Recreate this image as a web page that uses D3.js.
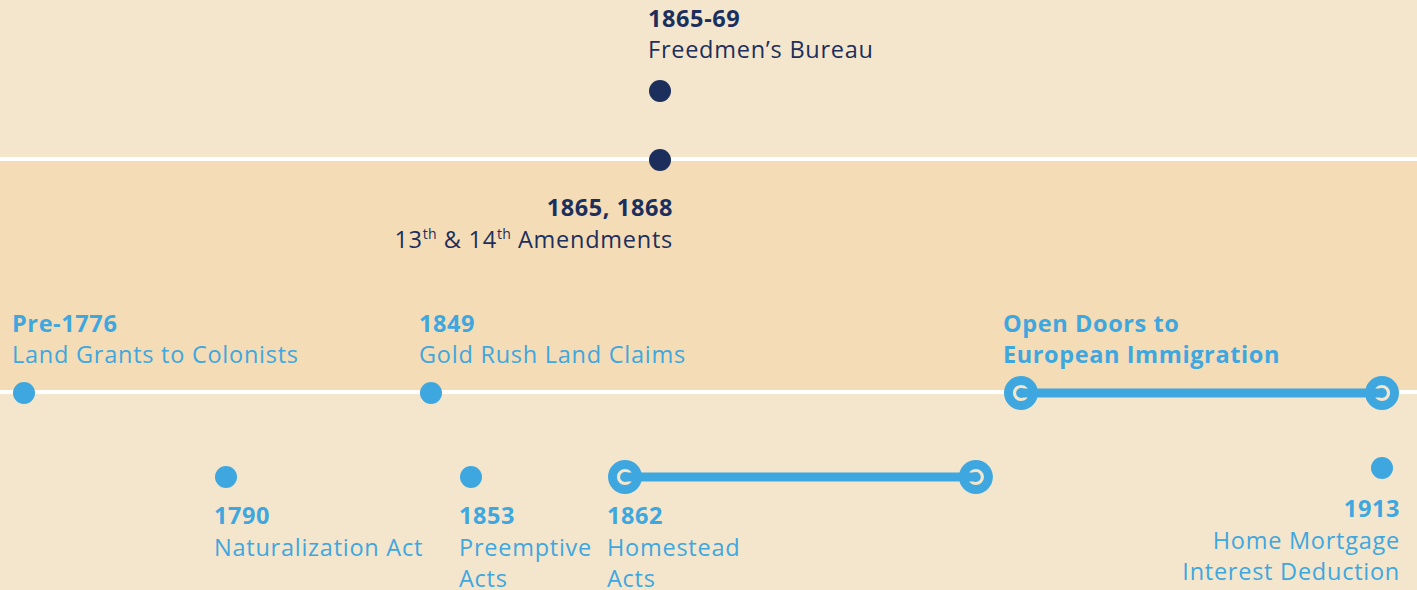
<!DOCTYPE html>
<html>
<head>
<meta charset="utf-8">
<script src="https://cdn.jsdelivr.net/npm/d3@7"></script>
<style>
  body { margin: 0; overflow: hidden; }
  svg { display: block; font-family: "Open Sans", Lato, sans-serif; }
</style>
</head>
<body>
<svg id="chart" width="1417" height="590"></svg>
<script>
// single-date events
const pointLabels = ["Pre-1776", "1790", "1849", "1853", "1865-69", "1865, 1868", "1913"];
const pointTitles = ["Land Grants to Colonists", "Naturalization Act", "Gold Rush Land Claims", "Preemptive\nActs",
    "Freedmen’s Bureau", "13^th & 14^th Amendments", "Home Mortgage\nInterest Deduction"];
const pointYears = [1776, 1790, 1849, 1853, 1865, 1865, 1913];
const pointLanes = ["divider2", "low", "divider2", "low", "top", "divider1", "lowEnd"];
const pointGroups = ["land", "land", "land", "land", "civil", "civil", "land"];

// events that run over a period
const spanLabels = ["1862", "Open Doors to\nEuropean Immigration"];
const spanTitles = ["Homestead\nActs", ""];
const spanStarts = [1862, 1889];
const spanEnds = [1886, 1913];
const spanLanes = ["low", "divider2"];

// timeline is not to scale: stops where the spacing changes
const axisStops = [1776, 1790, 1849, 1853, 1862, 1865, 1913];

const W = 1417, H = 590;
const colors = { land: "#3fa7df", civil: "#1c2f5c", light: "#f3e6cd", warm: "#f3dcb6", rule: "#ffffff" };

const svg = d3.select("#chart");

const x = d3.scaleLinear()
    .domain(axisStops)
    .range([24, 226, 431, 471, 625, 660, 1382]);

const lane = d3.scaleOrdinal()
    .domain(["top", "divider1", "divider2", "low", "lowEnd"])
    .range([91, 160, 393, 477, 468]);

// where labels go for each lane
const place = {
    top:      { side: "above", anchor: "start", gap: 33, dx: 0 },
    divider1: { side: "below", anchor: "end",   gap: 56, dx: 0 },
    divider2: { side: "above", anchor: "start", gap: 30, dx: 0 },
    low:      { side: "below", anchor: "start", gap: 47, dx: 0 },
    lowEnd:   { side: "below", anchor: "end",   gap: 49, dx: 5 }
};
const lineH = 31.5, fontSize = 23.5, dotR = 11, ringR = 17;

// background bands, split at the two dividers
const y1 = lane("divider1") - 1, y2 = lane("divider2") - 1;
svg.append("rect").attr("width", W).attr("height", H).attr("fill", colors.light);
svg.append("rect").attr("y", y1).attr("width", W).attr("height", y2 - y1).attr("fill", colors.warm);
svg.selectAll(".rule")
    .data([y1, y2])
    .enter().append("line")
    .attr("class", "rule")
    .attr("x1", 0).attr("x2", W)
    .attr("y1", d => d).attr("y2", d => d)
    .attr("stroke", colors.rule)
    .attr("stroke-width", 4);

const points = pointLabels.map((l, i) => ({
    label: l, title: pointTitles[i], year: pointYears[i], lane: pointLanes[i], group: pointGroups[i]
}));
const spans = spanLabels.map((l, i) => ({
    label: l, title: spanTitles[i], start: spanStarts[i], end: spanEnds[i], lane: spanLanes[i], group: "land"
}));

// spans: rings at both ends joined by a thick bar
const sg = svg.selectAll(".span")
    .data(spans)
    .enter().append("g")
    .attr("class", "span");

sg.each(function (d) {
    const g = d3.select(this);
    const cy = lane(d.lane);
    [d.start, d.end].forEach(yr => {
        g.append("circle").attr("cx", x(yr)).attr("cy", cy).attr("r", ringR).attr("fill", colors[d.group]);
        g.append("circle").attr("cx", x(yr)).attr("cy", cy).attr("r", 6.5)
            .attr("fill", "none").attr("stroke", colors.light).attr("stroke-width", 3.2);
    });
    g.append("line")
        .attr("x1", x(d.start)).attr("x2", x(d.end))
        .attr("y1", cy).attr("y2", cy)
        .attr("stroke", colors[d.group])
        .attr("stroke-width", 9);
});

svg.selectAll(".dot")
    .data(points)
    .enter().append("circle")
    .attr("class", "dot")
    .attr("cx", d => x(d.year))
    .attr("cy", d => lane(d.lane))
    .attr("r", dotR)
    .attr("fill", d => colors[d.group]);

// text with ^sup markup; each piece is its own tspan with a relative shift
function addLine(text, str, xPos, yPos, bold) {
    const parts = str.split(/\^(\w+)/);
    let shift = 0, firstPiece = true;
    parts.forEach((p, i) => {
        if (!p) return;
        const sup = i % 2 === 1;
        const t = text.append("tspan")
            .attr("font-weight", bold ? 700 : 400)
            .attr("letter-spacing", bold ? 0.6 : 0.75)
            .text(p);
        if (firstPiece) { t.attr("x", xPos).attr("y", sup ? yPos - 9 : yPos); firstPiece = false; }
        else t.attr("dy", (sup ? -9 : 0) - shift);
        if (sup) t.attr("font-size", 14).attr("letter-spacing", 0.3);
        shift = sup ? -9 : 0;
    });
}

function drawLabel(d, cx, r) {
    const cy = lane(d.lane);
    const p = place[d.lane];
    const boldLines = d.label.split("\n");
    const lines = boldLines.map(s => ({ s: s, bold: true }))
        .concat(d.title ? d.title.split("\n").map(s => ({ s: s, bold: false })) : []);
    const first = p.side === "above" ? cy - p.gap - (lines.length - 1) * lineH : cy + p.gap;
    const tx = (p.anchor === "start" ? cx - r - 1 : cx + r + 2) + p.dx;
    const text = svg.append("text")
        .attr("text-anchor", p.anchor)
        .attr("font-size", fontSize)
        .attr("fill", colors[d.group]);
    lines.forEach((ln, i) => addLine(text, ln.s, tx, first + i * lineH, ln.bold));
}

points.forEach(d => drawLabel(d, x(d.year), dotR));
spans.forEach(d => drawLabel(d, x(d.start), ringR));
</script>
</body>
</html>
